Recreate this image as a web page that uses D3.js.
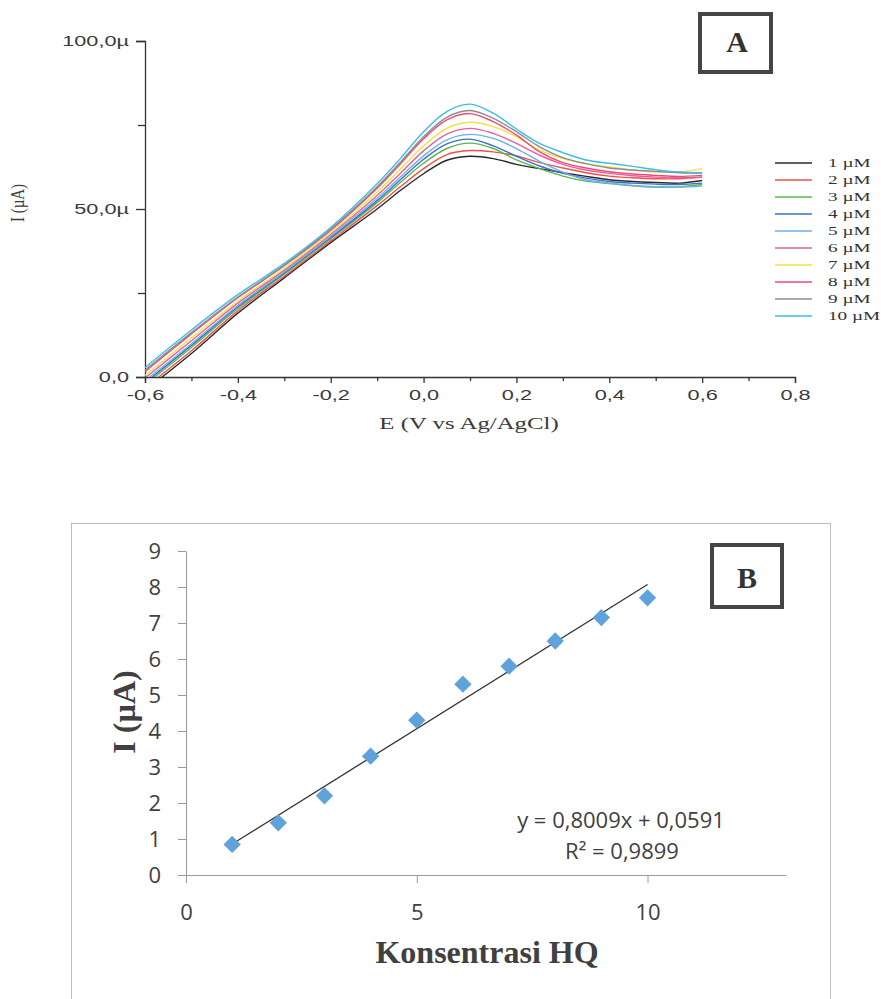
<!DOCTYPE html>
<html>
<head>
<meta charset="utf-8">
<script src="https://cdn.jsdelivr.net/npm/d3@7"></script>
<style>
  html, body { margin: 0; padding: 0; background: #fff; }
  svg { display: block; }
</style>
</head>
<body>
<svg id="chart" width="883" height="999"></svg>
<script>
// ---------- Panel A data: DPV curves (E in V, I in µA) ----------
const potentials = [-0.6,-0.5,-0.4,-0.3,-0.2,-0.1,-0.05,0,0.05,0.1,0.15,0.2,0.25,0.3,0.35,0.4,0.45,0.5,0.55,0.6];
const concLabels = ["1 µM","2 µM","3 µM","4 µM","5 µM","6 µM","7 µM","8 µM","9 µM","10 µM"];
const curveColors = ["#2a2a2a","#f0504a","#5cb84a","#3a6fd0","#6cb2ea","#e8609a","#f2e23c","#f0487c","#8c8c8c","#3ebbe8"];
const cur1  = [-4.0, 7.0,19.0,29.5,40.0,50.0,55.5,60.5,64.5,65.7,65.0,63.3,62.0,60.8,59.7,58.7,58.2,57.9,57.7,58.5];
const cur2  = [-3.2, 7.8,19.7,30.0,40.5,51.0,56.6,62.0,66.2,67.4,67.0,65.8,63.8,62.2,60.8,59.8,59.3,59.0,59.0,59.5];
const cur3  = [-2.3, 8.8,20.4,30.6,41.1,51.9,57.9,63.6,68.0,69.6,68.0,64.6,62.0,59.8,58.3,57.6,56.9,56.5,56.6,57.3];
const cur4  = [-1.7, 9.4,20.9,31.0,41.5,52.5,58.7,64.8,69.4,70.8,68.8,65.7,62.8,60.6,59.2,58.2,57.7,57.4,57.3,57.7];
const cur5  = [-1.1, 9.9,21.3,31.3,41.9,53.2,59.5,65.8,70.6,72.2,71.0,68.0,64.2,61.0,58.7,57.7,57.0,56.6,56.5,56.8];
const cur6  = [-0.3,10.8,22.0,31.8,42.4,54.0,60.6,67.3,72.3,74.0,72.5,69.5,66.0,63.3,61.6,60.6,59.9,59.5,59.3,59.5];
const cur7  = [ 0.5,11.6,22.6,32.3,43.0,55.0,61.8,68.8,74.0,75.8,74.5,71.5,67.5,65.0,63.5,62.5,61.6,61.0,61.0,62.0];
const cur8  = [ 1.6,12.8,23.6,33.1,43.7,56.2,63.4,70.9,76.5,78.4,76.0,72.0,67.0,63.8,62.2,61.1,60.4,60.0,59.7,60.0];
const cur9  = [ 2.0,13.2,23.8,33.3,44.0,56.6,63.9,71.5,77.3,79.3,77.0,73.0,68.5,65.3,63.5,62.2,61.6,61.2,60.8,60.7];
const cur10 = [ 2.8,14.0,24.5,33.8,44.5,57.5,65.0,73.0,79.0,81.2,78.5,73.8,69.5,66.8,64.6,63.6,62.7,61.7,61.0,60.7];
const currents = [cur1,cur2,cur3,cur4,cur5,cur6,cur7,cur8,cur9,cur10];
const xTicksA = [-0.6,-0.4,-0.2,0.0,0.2,0.4,0.6,0.8];
const xTickLabelsA = ["-0,6","-0,4","-0,2","0,0","0,2","0,4","0,6","0,8"];
const yTicksA = [0,50,100];
const yTickLabelsA = ["0,0","50,0µ","100,0µ"];

// ---------- Panel B data: calibration ----------
const concHQ = [1,2,3,4,5,6,7,8,9,10];
const peakI  = [0.85,1.45,2.2,3.3,4.3,5.3,5.8,6.5,7.15,7.7];
const fitSlope = 0.8009, fitIntercept = 0.0591;
const xTicksB = [0,5,10];
const yTicksB = [0,1,2,3,4,5,6,7,8,9];

const svg = d3.select("#chart");
const SX = 1.55; // horizontal stretch of panel A text (reference is stretched)

// ================= PANEL A =================
const xA = d3.scaleLinear().domain([-0.6,0.8]).range([145,795]);
const yA = d3.scaleLinear().domain([0,100]).range([377,41]);
const gA = svg.append("g");

svg.append("defs").append("clipPath").attr("id","clipA")
  .append("rect").attr("x",xA(-0.6)).attr("y",yA(100)).attr("width",xA(0.8)-xA(-0.6)).attr("height",yA(0)-yA(100));

// axes
const yAxisMinor = d3.axisLeft(yA).tickValues([25,75]).tickSize(7).tickFormat("");
gA.append("g").attr("transform",`translate(${xA(-0.6)},0)`).call(yAxisMinor)
  .call(g=>g.select(".domain").remove());
const yAxisA = d3.axisLeft(yA).tickValues(yTicksA).tickSize(9).tickPadding(7)
  .tickFormat((d,i)=>yTickLabelsA[i]);
gA.append("g").attr("class","yA").attr("transform",`translate(${xA(-0.6)},0)`).call(yAxisA);

const xMinor = d3.range(-5,8).map(i=>i/10).filter(v=>Math.abs(Math.round(v*10))%2===1);
gA.append("g").attr("transform",`translate(0,${yA(0)})`)
  .call(d3.axisBottom(xA).tickValues(xMinor).tickSize(4).tickFormat(""))
  .call(g=>g.select(".domain").remove());
const xAxisA = d3.axisBottom(xA).tickValues(xTicksA).tickSize(6).tickPadding(7)
  .tickFormat((d,i)=>xTickLabelsA[i]);
gA.append("g").attr("class","xA").attr("transform",`translate(0,${yA(0)})`).call(xAxisA);

gA.selectAll(".domain, .tick line").attr("stroke","#333").attr("stroke-width",1.3);
gA.selectAll(".tick text")
  .attr("font-family","'Liberation Sans', Arial, sans-serif")
  .attr("font-size",14).attr("fill","#3a3a3a");
gA.selectAll(".yA .tick text").each(function(){
  const t = d3.select(this); const x = +t.attr("x");
  t.attr("x",0).attr("transform",`translate(${x},0) scale(${SX},1)`);
});
gA.selectAll(".xA .tick text").each(function(){
  const t = d3.select(this); const y = +t.attr("y");
  t.attr("y",0).attr("transform",`translate(0,${y}) scale(${SX},1)`);
});

// curves
const line = d3.line().x((d,i)=>xA(potentials[i])).y(d=>yA(d)).curve(d3.curveCatmullRom.alpha(0.5));
gA.append("g").attr("clip-path","url(#clipA)")
  .selectAll("path").data(currents).join("path")
  .attr("d",d=>line(d)).attr("fill","none")
  .attr("stroke",(d,i)=>curveColors[i]).attr("stroke-width",1.4);

// axis titles
gA.append("text").attr("transform",`translate(469,429) scale(${SX},1)`)
  .attr("text-anchor","middle").attr("font-family","'Liberation Serif', 'Times New Roman', serif")
  .attr("font-size",16).attr("fill","#3a3a3a").text("E (V vs Ag/AgCl)");
gA.append("text").attr("transform",`translate(24,203) scale(1.3,1) rotate(-90)`)
  .attr("text-anchor","middle").attr("font-family","'Liberation Serif', 'Times New Roman', serif")
  .attr("font-size",15).attr("fill","#3a3a3a").text("I (µA)");

// legend
const leg = gA.append("g");
concLabels.forEach((lab,i)=>{
  const y = 163 + i*17;
  leg.append("line").attr("x1",775).attr("x2",812).attr("y1",y).attr("y2",y)
    .attr("stroke",curveColors[i]).attr("stroke-width",1.5);
  leg.append("text").attr("transform",`translate(828,${y+4}) scale(1.6,1)`)
    .attr("font-family","'Liberation Serif', 'Times New Roman', serif")
    .attr("font-size",12).attr("fill","#333").text(lab);
});

// label box A
gA.append("rect").attr("x",700).attr("y",14).attr("width",71).attr("height",58)
  .attr("fill","none").attr("stroke","#454545").attr("stroke-width",4);
gA.append("text").attr("x",737).attr("y",52).attr("text-anchor","middle")
  .attr("font-family","'Liberation Serif', 'Times New Roman', serif").attr("font-weight","bold")
  .attr("font-size",30).attr("fill","#333").text("A");

// ================= PANEL B =================
const gB = svg.append("g");
gB.append("rect").attr("x",71.5).attr("y",523.5).attr("width",759).attr("height",520)
  .attr("fill","none").attr("stroke","#bdbdbd").attr("stroke-width",1);

const xB = d3.scaleLinear().domain([0,13]).range([186,786]);
const yB = d3.scaleLinear().domain([0,9]).range([875,551]);

const yAxisB = d3.axisLeft(yB).tickValues(yTicksB).tickSize(8).tickPadding(17).tickSizeOuter(0);
gB.append("g").attr("transform",`translate(${xB(0)},0)`).call(yAxisB);
const xAxisB = d3.axisBottom(xB).tickValues(xTicksB).tickSize(8).tickPadding(21).tickSizeOuter(0);
gB.append("g").attr("transform",`translate(0,${yB(0)})`).call(xAxisB);
gB.selectAll(".domain, .tick line").attr("stroke","#9a9a9a").attr("stroke-width",1);
gB.selectAll(".tick text").attr("font-family","'Open Sans', sans-serif")
  .attr("font-size",22).attr("fill","#404040");

// trendline
gB.append("line")
  .attr("x1",xB(1)).attr("y1",yB(fitSlope*1+fitIntercept))
  .attr("x2",xB(10)).attr("y2",yB(fitSlope*10+fitIntercept))
  .attr("stroke","#333").attr("stroke-width",1.3);

// markers
const diamond = d3.symbol(d3.symbolSquare, 150);
gB.selectAll("path.pt").data(concHQ).join("path").attr("class","pt")
  .attr("d",diamond())
  .attr("transform",(d,i)=>`translate(${xB(d)},${yB(peakI[i])}) rotate(45)`)
  .attr("fill","#5fa2dc");

// equation
gB.append("text").attr("x",621).attr("y",828).attr("text-anchor","middle")
  .attr("font-family","'Open Sans', sans-serif").attr("font-size",22).attr("fill","#404040")
  .text("y = 0,8009x + 0,0591");
gB.append("text").attr("x",622).attr("y",859).attr("text-anchor","middle")
  .attr("font-family","'Open Sans', sans-serif").attr("font-size",22).attr("fill","#404040")
  .text("R² = 0,9899");

// axis titles
gB.append("text").attr("x",487).attr("y",963).attr("text-anchor","middle")
  .attr("font-family","'Liberation Serif', 'Times New Roman', serif").attr("font-weight","bold")
  .attr("font-size",32).attr("fill","#404040").text("Konsentrasi HQ");
gB.append("text").attr("transform","translate(135,712) rotate(-90)").attr("text-anchor","middle")
  .attr("font-family","'Liberation Serif', 'Times New Roman', serif").attr("font-weight","bold")
  .attr("font-size",32).attr("fill","#404040").text("I (µA)");

// label box B
gB.append("rect").attr("x",712).attr("y",545).attr("width",70).attr("height",62)
  .attr("fill","none").attr("stroke","#454545").attr("stroke-width",4);
gB.append("text").attr("x",747).attr("y",588).attr("text-anchor","middle")
  .attr("font-family","'Liberation Serif', 'Times New Roman', serif").attr("font-weight","bold")
  .attr("font-size",30).attr("fill","#333").text("B");
</script>
</body>
</html>
